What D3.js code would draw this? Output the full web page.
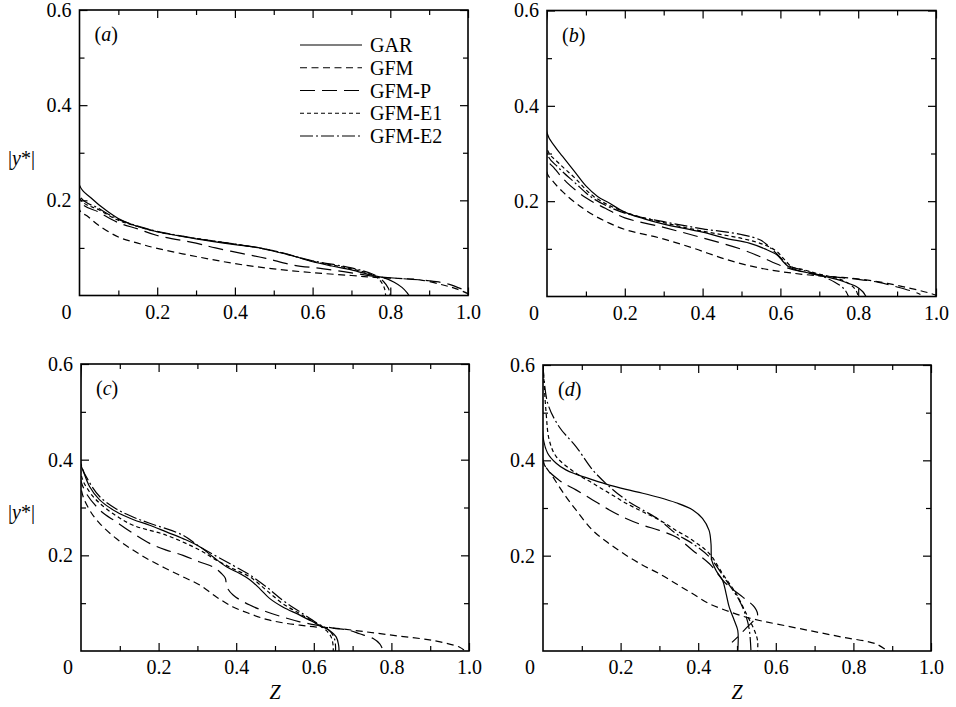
<!DOCTYPE html>
<html>
<head>
<meta charset="utf-8">
<script src="https://cdn.jsdelivr.net/npm/d3@7/dist/d3.min.js"></script>
<style>
  html, body { margin: 0; padding: 0; background: #fff; }
  svg { display: block; }
  text { font-family: "Liberation Serif", "DejaVu Serif", serif; fill: #000; }
</style>
</head>
<body>
<svg id="chart" width="956" height="707"></svg>
<script>
// ---------- data ----------
const seriesNames = ["GAR", "GFM", "GFM-P", "GFM-E1", "GFM-E2"];
const panelLabels = ["a", "b", "c", "d"];
const xTickLabels = [0.2, 0.4, 0.6, 0.8, 1.0];
const xMinorTicks = [0.1, 0.3, 0.5, 0.7, 0.9];
const yTickLabels = [0.2, 0.4, 0.6];
const yMinorTicks = [0.1, 0.3, 0.5];

// each point: [Z, |y*|]
// panel (a)
const aGAR = [[0,0.6],[0,0.232],[0.03,0.205],[0.07,0.178],[0.1,0.162],[0.15,0.145],[0.2,0.134],[0.3,0.119],[0.4,0.107],[0.45,0.102],[0.5,0.093],[0.55,0.083],[0.6,0.071],[0.65,0.062],[0.7,0.054],[0.75,0.043],[0.78,0.038],[0.81,0.028],[0.83,0.017],[0.843,0.006],[0.848,0]];
const aGFM = [[0,0.6],[0,0.18],[0.02,0.167],[0.05,0.147],[0.1,0.123],[0.15,0.11],[0.2,0.099],[0.3,0.082],[0.4,0.067],[0.5,0.056],[0.6,0.048],[0.7,0.042],[0.76,0.038],[0.82,0.036],[0.876,0.033],[0.936,0.022],[0.97,0.014],[1.0,0.004]];
const aGFMP = [[0,0.6],[0,0.2],[0.05,0.175],[0.1,0.153],[0.15,0.14],[0.2,0.126],[0.3,0.11],[0.35,0.1],[0.42,0.088],[0.48,0.078],[0.55,0.064],[0.62,0.057],[0.68,0.05],[0.72,0.045],[0.76,0.04],[0.82,0.036],[0.9,0.031],[0.95,0.024],[1.0,0.008]];
const aGFME1 = [[0,0.6],[0,0.205],[0.05,0.18],[0.1,0.158],[0.15,0.145],[0.2,0.134],[0.3,0.12],[0.4,0.108],[0.5,0.094],[0.6,0.072],[0.7,0.056],[0.76,0.041],[0.775,0.03],[0.785,0.015],[0.788,0]];
const aGFME2 = [[0,0.6],[0,0.21],[0.05,0.183],[0.1,0.16],[0.15,0.146],[0.2,0.135],[0.3,0.12],[0.4,0.108],[0.5,0.094],[0.6,0.073],[0.7,0.058],[0.76,0.043],[0.782,0.03],[0.795,0.015],[0.8,0]];
// panel (b)
const bGAR = [[0,0.6],[0,0.343],[0.02,0.315],[0.04,0.294],[0.07,0.263],[0.1,0.232],[0.13,0.21],[0.16,0.196],[0.2,0.177],[0.25,0.163],[0.3,0.152],[0.4,0.135],[0.46,0.122],[0.52,0.112],[0.56,0.1],[0.59,0.088],[0.605,0.075],[0.62,0.063],[0.64,0.056],[0.68,0.048],[0.72,0.041],[0.76,0.032],[0.795,0.021],[0.812,0.01],[0.82,0]];
const bGFM = [[0,0.6],[0,0.26],[0.015,0.242],[0.04,0.22],[0.074,0.196],[0.117,0.172],[0.16,0.154],[0.203,0.14],[0.289,0.123],[0.374,0.102],[0.46,0.078],[0.545,0.06],[0.631,0.049],[0.717,0.042],[0.76,0.04],[0.845,0.032],[0.93,0.018],[0.98,0.008],[1.0,0.003]];
const bGFMP = [[0,0.6],[0,0.29],[0.02,0.268],[0.05,0.24],[0.1,0.207],[0.15,0.185],[0.2,0.165],[0.3,0.145],[0.4,0.123],[0.5,0.099],[0.55,0.083],[0.6,0.065],[0.65,0.053],[0.7,0.045],[0.75,0.04],[0.8,0.036],[0.85,0.03],[0.9,0.02],[0.95,0.008],[0.96,0.004]];
const bGFME1 = [[0,0.6],[0,0.31],[0.03,0.28],[0.07,0.25],[0.12,0.21],[0.2,0.177],[0.3,0.155],[0.4,0.137],[0.5,0.122],[0.56,0.108],[0.59,0.095],[0.61,0.078],[0.63,0.062],[0.66,0.056],[0.7,0.047],[0.75,0.037],[0.78,0.025],[0.795,0.012],[0.8,0]];
const bGFME2 = [[0,0.6],[0,0.3],[0.03,0.27],[0.07,0.24],[0.12,0.205],[0.2,0.175],[0.3,0.157],[0.4,0.142],[0.5,0.13],[0.55,0.118],[0.57,0.105],[0.6,0.082],[0.62,0.065],[0.65,0.057],[0.7,0.045],[0.74,0.03],[0.765,0.015],[0.775,0]];
// panel (c)
const cGAR = [[0,0.6],[0,0.389],[0.005,0.378],[0.022,0.344],[0.048,0.316],[0.091,0.291],[0.134,0.275],[0.177,0.263],[0.22,0.249],[0.263,0.235],[0.306,0.218],[0.34,0.197],[0.375,0.176],[0.409,0.162],[0.435,0.149],[0.46,0.131],[0.486,0.11],[0.52,0.092],[0.564,0.075],[0.607,0.057],[0.64,0.043],[0.658,0.029],[0.664,0.012],[0.665,0]];
const cGFM = [[0,0.6],[0,0.34],[0.022,0.295],[0.048,0.267],[0.091,0.235],[0.134,0.211],[0.177,0.19],[0.22,0.172],[0.263,0.155],[0.306,0.138],[0.349,0.113],[0.392,0.092],[0.435,0.078],[0.478,0.066],[0.52,0.059],[0.564,0.054],[0.607,0.05],[0.65,0.048],[0.735,0.04],[0.821,0.031],[0.907,0.022],[0.976,0.008],[0.99,0]];
const cGFMP = [[0,0.6],[0,0.355],[0.048,0.295],[0.091,0.27],[0.134,0.246],[0.177,0.225],[0.22,0.211],[0.263,0.2],[0.306,0.186],[0.34,0.176],[0.362,0.162],[0.372,0.152],[0.376,0.134],[0.392,0.117],[0.435,0.096],[0.478,0.082],[0.52,0.071],[0.564,0.061],[0.607,0.054],[0.65,0.048],[0.692,0.043],[0.718,0.036],[0.753,0.026],[0.77,0.015],[0.777,0.004]];
const cGFME1 = [[0,0.6],[0,0.37],[0.02,0.335],[0.048,0.309],[0.09,0.283],[0.134,0.263],[0.22,0.242],[0.306,0.211],[0.349,0.19],[0.392,0.172],[0.435,0.155],[0.478,0.127],[0.52,0.099],[0.564,0.078],[0.607,0.057],[0.632,0.043],[0.645,0.029],[0.65,0.01],[0.65,0]];
const cGFME2 = [[0,0.6],[0,0.392],[0.02,0.355],[0.048,0.323],[0.091,0.297],[0.134,0.28],[0.177,0.267],[0.263,0.242],[0.306,0.218],[0.392,0.179],[0.435,0.159],[0.478,0.134],[0.52,0.106],[0.564,0.082],[0.607,0.059],[0.64,0.043],[0.653,0.026],[0.656,0.01],[0.656,0]];
// panel (d)
const dGAR = [[0,0.6],[0,0.45],[0.012,0.415],[0.034,0.394],[0.059,0.38],[0.085,0.371],[0.128,0.359],[0.171,0.348],[0.214,0.339],[0.257,0.331],[0.3,0.322],[0.343,0.311],[0.386,0.296],[0.411,0.278],[0.428,0.253],[0.433,0.225],[0.435,0.19],[0.446,0.169],[0.463,0.148],[0.472,0.12],[0.48,0.092],[0.493,0.064],[0.502,0.043],[0.502,0]];
const dGFM = [[0,0.6],[0,0.4],[0.025,0.366],[0.059,0.324],[0.085,0.296],[0.128,0.253],[0.171,0.225],[0.214,0.201],[0.257,0.18],[0.3,0.162],[0.343,0.141],[0.386,0.12],[0.429,0.099],[0.472,0.085],[0.515,0.073],[0.558,0.064],[0.6,0.057],[0.686,0.043],[0.772,0.029],[0.858,0.015],[0.888,0]];
const dGFMP = [[0,0.6],[0,0.397],[0.042,0.358],[0.085,0.338],[0.128,0.317],[0.171,0.296],[0.214,0.278],[0.257,0.264],[0.3,0.253],[0.343,0.239],[0.386,0.211],[0.429,0.183],[0.472,0.141],[0.515,0.113],[0.545,0.092],[0.553,0.075],[0.543,0.064],[0.52,0.045],[0.5,0.028],[0.487,0.018]];
const dGFME1 = [[0,0.6],[0.008,0.5],[0.016,0.443],[0.034,0.408],[0.085,0.373],[0.128,0.352],[0.171,0.331],[0.214,0.31],[0.257,0.292],[0.3,0.275],[0.343,0.253],[0.386,0.232],[0.429,0.204],[0.463,0.162],[0.498,0.12],[0.524,0.078],[0.545,0.043],[0.553,0.022],[0.553,0]];
const dGFME2 = [[0,0.6],[0.012,0.52],[0.042,0.47],[0.085,0.429],[0.128,0.38],[0.171,0.345],[0.214,0.317],[0.257,0.296],[0.3,0.275],[0.343,0.246],[0.386,0.225],[0.429,0.197],[0.472,0.148],[0.506,0.106],[0.524,0.071],[0.532,0.043],[0.536,0]];

const panelData = [
  [aGAR, aGFM, aGFMP, aGFME1, aGFME2],
  [bGAR, bGFM, bGFMP, bGFME1, bGFME2],
  [cGAR, cGFM, cGFMP, cGFME1, cGFME2],
  [dGAR, dGFM, dGFMP, dGFME1, dGFME2]
];

// ---------- styles / layout ----------
const FONT = "'Liberation Serif', 'Times New Roman', serif";
const dashes = [null, "7,4.5", "15,7", "4,3", "13,3,2,3"];
const layout = [
  {left: 79.5, right: 468, top: 10, bottom: 295.5, yTitle: true,  xTitle: false},
  {left: 547,  right: 936, top: 10.5, bottom: 296.5, yTitle: false, xTitle: false},
  {left: 81,   right: 469, top: 364, bottom: 651, yTitle: true,  xTitle: true},
  {left: 543,  right: 931, top: 365, bottom: 651, yTitle: false, xTitle: true}
];

const svg = d3.select("#chart");
const fmt = d3.format(".1f");

layout.forEach((L, i) => {
  const x = d3.scaleLinear().domain([0, 1]).range([L.left, L.right]);
  const y = d3.scaleLinear().domain([0, 0.6]).range([L.bottom, L.top]);
  const g = svg.append("g");

  const clipId = "clip" + i;
  svg.append("clipPath").attr("id", clipId).append("rect")
    .attr("x", L.left).attr("y", L.top - 1)
    .attr("width", L.right - L.left).attr("height", L.bottom - L.top + 1);

  // curves
  const line = d3.line().x(d => x(d[0])).y(d => y(d[1])).curve(d3.curveCatmullRom.alpha(0.5));
  const cg = g.append("g").attr("clip-path", `url(#${clipId})`);
  panelData[i].forEach((pts, s) => {
    cg.append("path").attr("d", line(pts))
      .attr("fill", "none").attr("stroke", "#000").attr("stroke-width", 1.2)
      .attr("stroke-dasharray", dashes[s]);
  });

  // axes (inward ticks on all sides)
  const styleAxis = sel => {
    sel.attr("font-family", null).attr("font-size", null);
    sel.select(".domain").remove();
    sel.selectAll(".tick line").attr("stroke", "#000").attr("stroke-width", 1.2);
    sel.selectAll("text").style("font-size", "20px").style("font-family", FONT).attr("fill", "#000");
  };
  g.append("g").attr("transform", `translate(0,${L.bottom})`)
    .call(d3.axisBottom(x).tickValues(xTickLabels).tickSize(-8).tickPadding(9).tickFormat(fmt))
    .call(styleAxis);
  g.append("g").attr("transform", `translate(0,${L.bottom})`)
    .call(d3.axisBottom(x).tickValues(xMinorTicks).tickSize(-5).tickFormat(""))
    .call(styleAxis);
  g.append("g").attr("transform", `translate(0,${L.top})`)
    .call(d3.axisTop(x).tickValues(xTickLabels).tickSize(-8).tickFormat(""))
    .call(styleAxis);
  g.append("g").attr("transform", `translate(0,${L.top})`)
    .call(d3.axisTop(x).tickValues(xMinorTicks).tickSize(-5).tickFormat(""))
    .call(styleAxis);
  g.append("g").attr("transform", `translate(${L.left},0)`)
    .call(d3.axisLeft(y).tickValues(yTickLabels).tickSize(-8).tickPadding(8).tickFormat(fmt))
    .call(styleAxis);
  g.append("g").attr("transform", `translate(${L.left},0)`)
    .call(d3.axisLeft(y).tickValues(yMinorTicks).tickSize(-5).tickFormat(""))
    .call(styleAxis);
  g.append("g").attr("transform", `translate(${L.right},0)`)
    .call(d3.axisRight(y).tickValues(yTickLabels).tickSize(-8).tickFormat(""))
    .call(styleAxis);
  g.append("g").attr("transform", `translate(${L.right},0)`)
    .call(d3.axisRight(y).tickValues(yMinorTicks).tickSize(-5).tickFormat(""))
    .call(styleAxis);

  // frame
  g.append("rect").attr("x", L.left).attr("y", L.top)
    .attr("width", L.right - L.left).attr("height", L.bottom - L.top)
    .attr("fill", "none").attr("stroke", "#000").attr("stroke-width", 1.6);

  // origin label
  g.append("text").attr("x", x(0) - 13).attr("y", L.bottom + 23)
    .attr("text-anchor", "middle").style("font-size", "20px").style("font-family", FONT).text("0");

  // panel label
  const pl = g.append("text").attr("x", L.left + 15).attr("y", L.top + 31)
    .style("font-size", "20px").style("font-family", FONT);
  pl.append("tspan").text("(");
  pl.append("tspan").style("font-style", "italic").text(panelLabels[i]);
  pl.append("tspan").text(")");

  if (L.yTitle) {
    const yt = g.append("text").attr("x", 8).attr("y", L.top + 155)
      .style("font-size", "20px").style("font-family", FONT).attr("fill", "#000");
    yt.append("tspan").attr("fill", "#000").text("|");
    yt.append("tspan").attr("fill", "#000").style("font-style", "italic").text("y");
    yt.append("tspan").attr("fill", "#000").text("*|");
  }
  if (L.xTitle) {
    g.append("text").attr("x", (L.left + L.right) / 2).attr("y", L.bottom + 48)
      .attr("text-anchor", "middle").style("font-size", "20px").style("font-family", FONT)
      .style("font-style", "italic").text("Z");
  }

  // legend in panel (a)
  if (i === 0) {
    const lg = g.append("g");
    const rowY = d3.scalePoint().domain(seriesNames).range([45, 136]);
    seriesNames.forEach((name, s) => {
      lg.append("line").attr("x1", 300).attr("x2", 362)
        .attr("y1", rowY(name)).attr("y2", rowY(name))
        .attr("stroke", "#000").attr("stroke-width", 1.2).attr("stroke-dasharray", dashes[s]);
      lg.append("text").attr("x", 370).attr("y", rowY(name) + 7)
        .style("font-size", "20px").style("font-family", FONT).text(name);
    });
  }
});
</script>
</body>
</html>
